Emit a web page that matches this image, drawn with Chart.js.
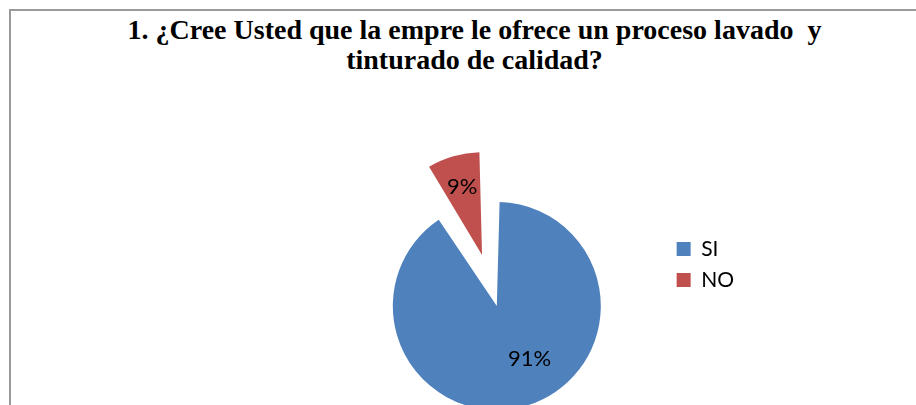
<!DOCTYPE html>
<html>
<head>
<meta charset="utf-8">
<script src="https://cdn.jsdelivr.net/npm/chart.js@4"></script>
<style>
  html, body { margin: 0; padding: 0; background: #fff; overflow: hidden; }
  #wrap { position: relative; width: 916px; height: 405px; overflow: hidden; }
  #frame { position: absolute; left: 9px; top: 9px; right: -10px; bottom: -10px;
           border-left: 2px solid #9a9a9a; border-top: 2px solid #9a9a9a; }
  #title { position: absolute; left: 0; top: 15px; width: 949px; text-align: center; white-space: pre;
           font: bold 28px/30px "Liberation Serif", "Times New Roman", serif; color: #000; }
  canvas { position: absolute; left: 0; top: 0; }
</style>
</head>
<body>
<div id="wrap">
  <div id="frame"></div>
  <div id="title">1. ¿Cree Usted que la empre le ofrece un proceso lavado  y
tinturado de calidad?</div>
  <canvas id="myChart" width="916" height="405"></canvas>
</div>
<script>
const ctx = document.getElementById('myChart').getContext('2d')

const labels = ['SI', 'NO']
const values = [91, 9]
const colors = ['#4F81BD', '#C0504D']
// both slices pulled out a little, NO much more than SI
const explode = [70, 142]

// percentage text inside each slice
const sliceLabels = {
  id: 'sliceLabels',
  afterDatasetsDraw(chart, args, opts) {
    const c = chart.ctx
    const meta = chart.getDatasetMeta(0)
    const total = values.reduce((a, b) => a + b, 0)
    c.save()
    c.font = opts.font
    c.fillStyle = opts.color
    c.textAlign = 'center'
    c.textBaseline = 'middle'
    meta.data.forEach((arc, i) => {
      const o = (arc.options.offset || 0) / 4
      const mid = (arc.startAngle + arc.endAngle) / 2
      const fix = 1 - Math.sin(Math.min(Math.PI, arc.circumference))
      const r = arc.outerRadius + o * fix
      const a = mid + opts.turn[i] * Math.PI / 180
      const x = arc.x + Math.cos(mid) * o + Math.cos(a) * r * opts.at[i]
      const y = arc.y + Math.sin(mid) * o + Math.sin(a) * r * opts.at[i]
      c.fillText(Math.round(values[i] / total * 100) + '%', x, y)
    })
    c.restore()
  }
}

const myChart = new Chart(ctx, {
  type: 'pie',
  data: {
    labels,
    datasets: [{
      data: values,
      backgroundColor: colors,
      borderWidth: 0,
      offset: explode,
      radius: 86.5,
      clip: false,
    }]
  },
  options: {
    responsive: false,
    animation: false,
    events: [],
    // as a string so a small chart area does not turn it into NaN
    cutout: '0%',
    layout: {
      padding: { left: 317.2, right: 172, top: 228.5, bottom: 55.1 }
    },
    plugins: {
      title: { display: false },
      tooltip: { enabled: false },
      legend: {
        position: 'right',
        align: 'start',
        labels: {
          boxWidth: 14,
          boxHeight: 14,
          padding: 10,
          color: '#000',
          font: { family: 'Lato', size: 21 }
        }
      },
      sliceLabels: {
        font: '22px Lato',
        color: '#000',
        at: [0.60, 0.69],
        turn: [-15.5, 0]
      }
    }
  },
  plugins: [sliceLabels]
})
</script>
</body>
</html>
